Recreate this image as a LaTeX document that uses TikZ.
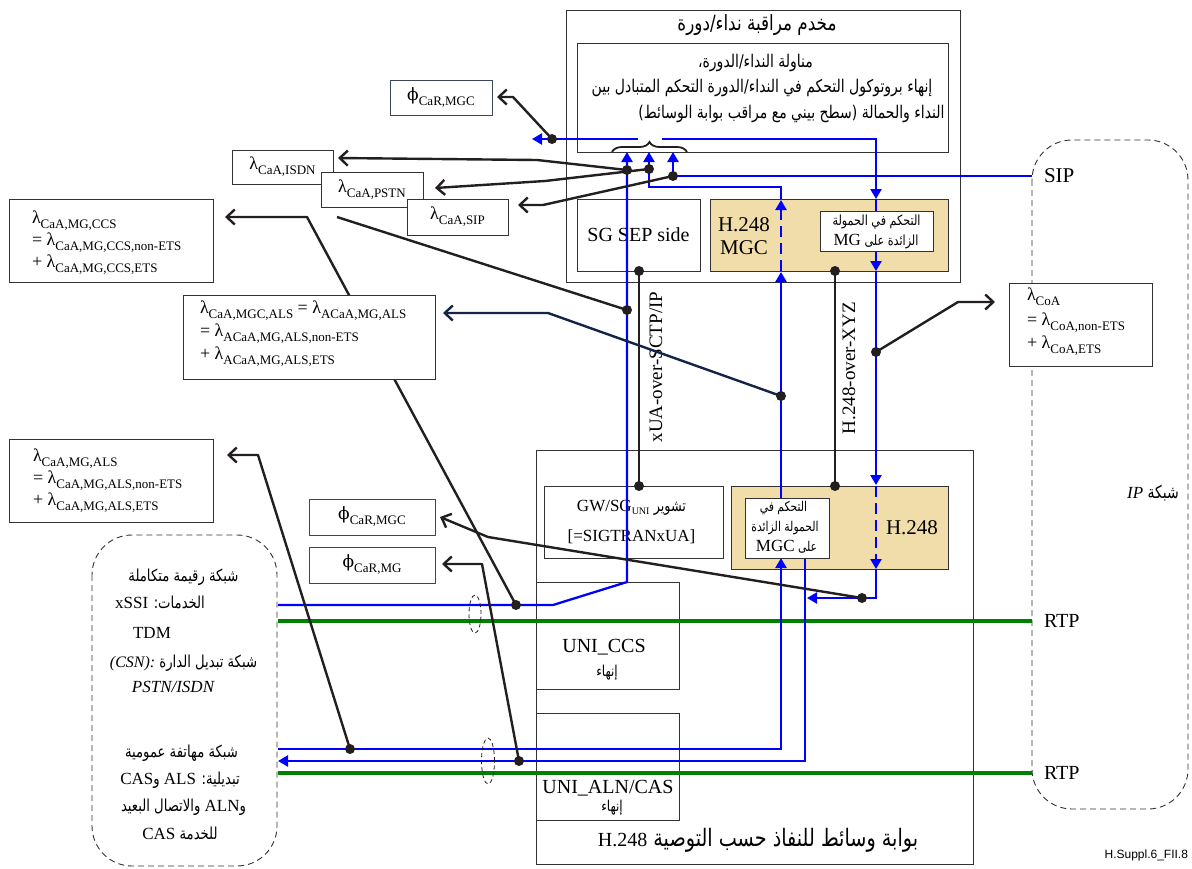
\documentclass[tikz,border=0pt]{standalone}
\usepackage{fontspec}
\usepackage{graphicx}
\setmainfont{Liberation Serif}
\newfontfamily\ar[Script=Arabic]{DejaVu Sans}
\newfontfamily\dvs{DejaVu Serif}
\newfontfamily\lsans{Liberation Sans}
\TeXXeTstate=1
\usetikzlibrary{arrows.meta,decorations.pathreplacing,shapes.geometric}
\definecolor{ink}{RGB}{35,31,32}
\definecolor{navy}{RGB}{20,35,70}
\definecolor{grn}{RGB}{0,128,0}
\definecolor{tanc}{RGB}{240,221,170}
\definecolor{edge}{RGB}{50,50,50}
\definecolor{slate}{RGB}{60,70,90}
\newcommand{\fs}[1]{\fontsize{#1}{#1}\selectfont}
\newcommand{\AR}[2][16]{\scalebox{0.8}[1]{\ar\fontsize{#1}{#1}\selectfont\beginR #2\endR}}
\newcommand{\LT}[2][17]{\beginL\scalebox{1.25}[1]{\rmfamily\fontsize{#1}{#1}\selectfont #2}\endL}
\newcommand{\sbs}[1]{\raisebox{-5pt}{\fontsize{13}{13}\selectfont #1}}
\newcommand{\sbu}[1]{\raisebox{-3pt}{\fontsize{10}{10}\selectfont #1}}
\newcommand{\phis}{{\dvs\fontsize{17}{17}\selectfont ϕ}}
\begin{document}
\begin{tikzpicture}[x=1pt,y=-1pt,
  bx/.style={draw=edge, line width=0.8pt, fill=white, inner sep=0pt},
  tanbox/.style={bx, fill=tanc},
  phibox/.style={bx, draw=slate},
  lbl/.style={inner sep=0pt, outer sep=0pt},
  bl/.style={draw=blue, line width=2.3pt},
  blarr/.style={bl, -{Triangle[length=10pt,width=11pt]}},
  bldash/.style={bl, dash pattern=on 11pt off 6pt, -{Triangle[length=10pt,width=11pt]}},
  gr/.style={draw=grn, line width=4pt},
  ms/.style={draw=ink, line width=2.4pt, line join=round},
  msarr/.style={ms, -{Straight Barb[length=8pt,width=15pt]}},
  dot/.style={circle, fill=ink, inner sep=0pt, minimum size=10pt},
  cloudbox/.style={draw=edge, line width=0.9pt, dash pattern=on 6pt off 4pt, rounded corners=40pt},
  ring/.style={draw=ink, line width=0.8pt, dash pattern=on 4pt off 3pt, ellipse, inner sep=0pt},
]
\useasboundingbox (0,0) rectangle (1192,868);

% clouds
\draw[cloudbox] (92,535) rectangle (277,866);
\draw[cloudbox] (1032,140) rectangle (1188,809);

% outer boxes
\node[bx, minimum width=394pt, minimum height=272pt] (srv) at (763,146) {};
\node[bx, minimum width=371pt, minimum height=109pt] (ch) at (762.5,97.5) {};
\node[bx, minimum width=437pt, minimum height=414pt] (mg) at (754.5,657) {};
% inner boxes
\node[bx, minimum width=123pt, minimum height=72pt] (sgsep) at (638.5,235) {\fs{20}SG SEP side};
\node[tanbox, minimum width=238pt, minimum height=72pt] (mgc) at (829,235) {};
\node[bx, minimum width=179pt, minimum height=72pt] (gwsg) at (633.5,522) {};
\node[tanbox, minimum width=217pt, minimum height=83pt] (hmg) at (839.5,527.5) {};
\node[bx, minimum width=143pt, minimum height=107pt] (uniccs) at (607.5,635.5) {};
\node[bx, minimum width=143pt, minimum height=107pt] (unialn) at (607.5,766.5) {};

% texts in server / MG
\node[lbl] (ttl) at (757,25) {\AR[21]{مخدم مراقبة نداء/دورة}};
\node[lbl] (ch1) at (755.5,63) {\AR[17.5]{مناولة النداء/الدورة،}};
\node[lbl] (ch2) at (762,88) {\AR[17.5]{إنهاء بروتوكول التحكم في النداء/الدورة التحكم المتبادل بين}};
\node[lbl] (ch3) at (791.5,114) {\AR[17.5]{النداء والحمالة (سطح بيني مع مراقب بوابة الوسائط)}};
\node[lbl, align=center, font=\fontsize{21}{23}\selectfont] (mgct) at (744,236) {H.248\\MGC};
\node[lbl] (mgh) at (912,528) {\fs{21}H.248};
\node[lbl] (gw1) at (631.5,508) {\fs{17}GW/SG\sbu{UNI} \AR[16]{تشوير}};
\node[lbl] (gw2) at (631.5,537) {\fs{17}[=SIGTRANxUA]};
\node[lbl] (u1) at (604,647) {\fs{20}UNI\_CCS};
\node[lbl] (u1b) at (607,673) {\AR[15]{إنهاء}};
\node[lbl] (u2) at (608,788) {\fs{20}UNI\_ALN/CAS};
\node[lbl] (u2b) at (612,808) {\AR[15]{إنهاء}};
\node[lbl] (mgt) at (758,840) {\AR[24]{بوابة وسائط للنفاذ حسب التوصية \LT[20]{H.248}}};

% left cloud text
\node[lbl] (c1) at (183.5,577) {\AR[16.5]{شبكة رقيمة متكاملة}};
\node[lbl] (c2) at (160,602) {\AR[16.5]{الخدمات: \LT[17]{xSSI}}};
\node[lbl] (c3) at (152,633) {\fs{17}TDM};
\node[lbl] (c4) at (183.5,663) {\AR[16.5]{شبكة تبديل الدارة \LT[16]{\itshape (CSN):}}};
\node[lbl] (c5) at (173,687) {\fs{17}\itshape PSTN/ISDN};
\node[lbl] (c6) at (181.5,753) {\AR[16.5]{شبكة مهاتفة عمومية}};
\node[lbl] (c7) at (180,780) {\AR[16.5]{تبديلية: \LT[17]{ALS} و\LT[17]{CAS}}};
\node[lbl] (c8) at (183.5,807) {\AR[16.5]{و\LT[17]{ALN} والاتصال البعيد}};
\node[lbl] (c9) at (180,833) {\AR[16.5]{للخدمة \LT[17]{CAS}}};
% right cloud text
\node[lbl] (ipn) at (1153,493) {\AR[17.5]{شبكة \LT[17]{\itshape IP}}};
\node[lbl, anchor=west] (sipl) at (1044,176) {\fs{21}SIP};
\node[lbl, anchor=west] (rtp1) at (1044,621) {\fs{20}RTP};
\node[lbl, anchor=west] (rtp2) at (1044,773) {\fs{20}RTP};

% green RTP lines
\draw[gr] (278,621) -- (rtp1.west -| 1032,0);
\draw[gr] (278,773) -- (rtp2.west -| 1032,0);

% dot coordinates
\coordinate (d1) at (552,139);
\coordinate (dI) at (627,170);
\coordinate (dP) at (649,169);
\coordinate (dS) at (673,176);
\coordinate (dC1) at (627,310);
\coordinate (dC2) at (516,605);
\coordinate (dA1) at (781,396);
\coordinate (dO) at (876,352);
\coordinate (dM1) at (862,598);
\coordinate (dM2) at (519,761);
\coordinate (dA2) at (350,749);
\coordinate (x1) at (639,271);
\coordinate (x2) at (639,486);
\coordinate (h1) at (835,271);
\coordinate (h2) at (835,486);

% blue signalling paths
\draw[blarr] (278,605) -- (553,605) -- (627,582) -- (627,152);
\draw[blarr] (278,749) -- (781,749) -- (781,558);
\draw[blarr] (781,498) -- (781,272);
\draw[bldash] (781,271) -- (781,200);
\draw[blarr] (781,199) -- (781,187) -- (649,187) -- (649,152);
\draw[blarr] (sipl.west -| 1032,0) -- (dS) -- (673,152);
\draw[blarr] (662,139) -- (876,139) -- (876,199);
\draw[blarr] (876,199) -- (876,271);
\draw[blarr] (876,271) -- (876,485);
\draw[bldash] (876,486) -- (876,569);
\draw[blarr] (876,569) -- (876,598) -- (807,598);
\draw[blarr] (638,139) -- (532,139);
\draw[blarr] (805,558) -- (805,761) -- (278,761);

% brace
\draw[ink, line width=1.8pt, decorate, decoration={brace, amplitude=10pt}] (612,152) -- (687,152);

% overload control boxes (white, on top)
\node[bx, minimum width=113pt, minimum height=40pt] (mgcol) at (876.5,231) {};
\node[lbl] (mo1) at (876.5,222) {\AR[14]{التحكم في الحمولة}};
\node[lbl] (mo2) at (876,242) {\AR[14]{الزائدة على \LT[17]{MG}}};
\node[bx, minimum width=84pt, minimum height=60pt] (mgcol2) at (787,528) {};
\node[lbl] (mq1) at (783.5,508) {\AR[13.5]{التحكم في}};
\node[lbl] (mq2) at (785,528) {\AR[13.5]{الحمولة الزائدة}};
\node[lbl] (mq3) at (786.5,547) {\AR[13.5]{على \LT[17]{MGC}}};

% dashed rings
\node[ring, minimum width=12pt, minimum height=38pt] (ring1) at (475,614) {};
\node[ring, minimum width=13pt, minimum height=46pt] (ring2) at (488,761) {};

% protocol lines
\draw[ms] (x1) -- (x2);
\draw[ms] (h1) -- (h2);
\node[lbl, rotate=90] (xua) at (656,367) {\fs{19}xUA-over-SCTP/IP};
\node[lbl, rotate=90] (hxyz) at (849,368) {\fs{19}H.248-over-XYZ};

% measurement lines
\draw[msarr] (d1) -- (513,97) -- (497,97);
\draw[msarr] (dI) -- (537,160) -- (338,158);
\draw[msarr] (dP) -- (545,181) -- (435,188);
\draw[msarr] (dS) -- (543,205) -- (518,205);
\draw[msarr] (dC2) -- (307,217) -- (225,217);
\draw[ms] (dC1) -- (337,217);
\draw[msarr, draw=navy] (dA1) -- (548,313) -- (443,313);
\draw[msarr] (dO) -- (958,302) -- (995,302);
\draw[msarr] (dA2) -- (258,455) -- (227,455);
\draw[msarr] (dM1) -- (488,537) -- (440,517);
\draw[msarr] (dM2) -- (482,564) -- (442,564);

% dots
\foreach \p/\n in {d1/k1,dI/k2,dP/k3,dS/k4,dC1/k5,dC2/k6,dA1/k7,dO/k8,dM1/k9,dM2/k10,dA2/k11,x1/k12,x2/k13,h1/k14,h2/k15}
  \node[dot] (\n) at (\p) {};

% label boxes
\node[phibox, minimum width=102pt, minimum height=35pt] (phitop) at (441,97.5) {\phis\sbs{CaR,MGC}};
\node[bx, minimum width=101pt, minimum height=34pt] (isdn) at (282.5,167) {\fs{18}λ\sbs{CaA,ISDN}};
\node[bx, minimum width=102pt, minimum height=35pt] (pstn) at (372,189.5) {\fs{18}λ\sbs{CaA,PSTN}};
\node[bx, minimum width=101pt, minimum height=36pt] (sipb) at (457.5,217) {\fs{18}λ\sbs{CaA,SIP}};
\node[bx, minimum width=204pt, minimum height=83pt] (ccs) at (111,240.5) {};
\node[bx, minimum width=252pt, minimum height=84pt] (alsmgc) at (309,337) {};
\node[bx, minimum width=204pt, minimum height=83pt] (alsmg) at (111,480.5) {};
\node[bx, minimum width=143pt, minimum height=83pt] (coa) at (1080.5,324.5) {};
\node[phibox, minimum width=126pt, minimum height=36pt] (phimgc) at (372,517) {\phis\sbs{CaR,MGC}};
\node[phibox, minimum width=126pt, minimum height=36pt] (phimg) at (372,565) {\phis\sbs{CaR,MG}};

\node[lbl, anchor=base west] (ccs1) at (32,223) {\fs{18}λ\sbs{CaA,MG,CCS}};
\node[lbl, anchor=base west] (ccs2) at (32,245) {\fs{18}= λ\sbs{CaA,MG,CCS,non-ETS}};
\node[lbl, anchor=base west] (ccs3) at (32,267) {\fs{18}+ λ\sbs{CaA,MG,CCS,ETS}};
\node[lbl, anchor=base west] (am1) at (200,313) {\fs{18}λ\sbs{CaA,MGC,ALS} = λ\sbs{ACaA,MG,ALS}};
\node[lbl, anchor=base west] (am2) at (200,336) {\fs{18}= λ\sbs{ACaA,MG,ALS,non-ETS}};
\node[lbl, anchor=base west] (am3) at (200,359) {\fs{18}+ λ\sbs{ACaA,MG,ALS,ETS}};
\node[lbl, anchor=base west] (ag1) at (33,461) {\fs{18}λ\sbs{CaA,MG,ALS}};
\node[lbl, anchor=base west] (ag2) at (33,483) {\fs{18}= λ\sbs{CaA,MG,ALS,non-ETS}};
\node[lbl, anchor=base west] (ag3) at (33,505) {\fs{18}+ λ\sbs{CaA,MG,ALS,ETS}};
\node[lbl, anchor=base west] (co1) at (1027,300) {\fs{18}λ\sbs{CoA}};
\node[lbl, anchor=base west] (co2) at (1027,325) {\fs{18}= λ\sbs{CoA,non-ETS}};
\node[lbl, anchor=base west] (co3) at (1027,348) {\fs{18}+ λ\sbs{CoA,ETS}};

\node[lbl, anchor=east] (fig) at (1188,855) {\lsans\fs{12}H.Suppl.6\_FII.8};
\end{tikzpicture}
\end{document}
